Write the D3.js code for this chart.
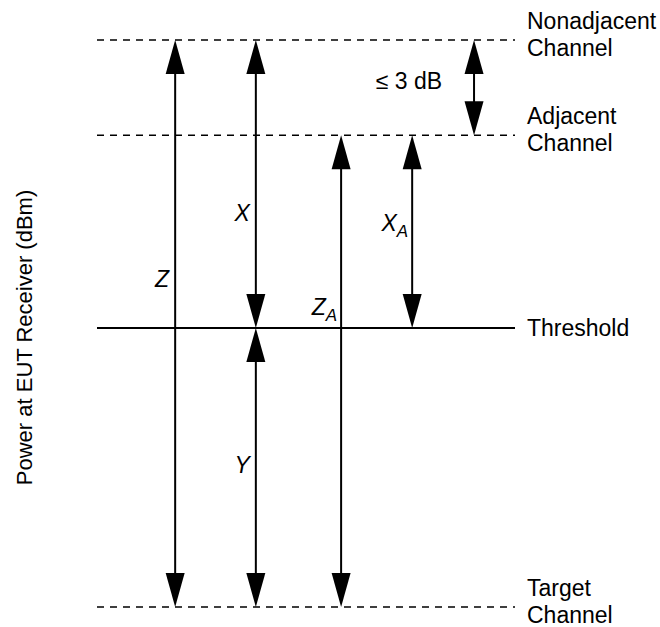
<!DOCTYPE html>
<html>
<head>
<meta charset="utf-8">
<script src="https://cdn.jsdelivr.net/npm/d3@7"></script>
<style>
  html, body { margin: 0; padding: 0; background: #fff; }
  svg text { font-family: "Liberation Sans", Arial, Helvetica, sans-serif; fill: #000; }
</style>
</head>
<body>
<svg id="chart" width="660" height="627"></svg>
<script>
// ---- data (relative power levels, arbitrary units) ----
const levelNames  = ["Target Channel", "Threshold", "Adjacent Channel", "Nonadjacent Channel"];
const levelValues = [0, 49.2, 83.2, 100];

// arrows: name, lower level, upper level, column (0-100 across the plot)
const arrowNames   = ["Z", "X", "Y", "ZA", "XA", "3dB"];
const arrowFrom    = ["Target Channel", "Threshold", "Target Channel", "Target Channel", "Threshold", "Adjacent Channel"];
const arrowTo      = ["Nonadjacent Channel", "Nonadjacent Channel", "Threshold", "Adjacent Channel", "Adjacent Channel", "Nonadjacent Channel"];
const arrowColumns = [18.7, 38.0, 38.0, 58.4, 75.4, 90.2];

// labels: main text, subscript, fraction along the arrow from its top
const labelMain  = ["Z", "X", "Y", "Z", "X", "\u2264 3 dB"];
const labelSub   = ["", "", "", "A", "A", ""];
const labelFrac  = [0.436, 0.628, 0.52, 0.381, 0.497, 0.516];

const yTitle = "Power at EUT Receiver (dBm)";

// ---- layout ----
const svg = d3.select("#chart");
const x = d3.scaleLinear().domain([0, 100]).range([97, 515]);
const y = d3.scaleLinear().domain([0, 100]).range([607, 40]);
const levelOf = name => levelValues[levelNames.indexOf(name)];

// horizontal level lines
levelNames.forEach((name, i) => {
  svg.append("line")
    .attr("x1", x(0)).attr("x2", x(100))
    .attr("y1", y(levelValues[i])).attr("y2", y(levelValues[i]))
    .attr("stroke", "#000")
    .attr("stroke-width", name === "Threshold" ? 2 : 1.6)
    .attr("stroke-dasharray", name === "Threshold" ? null : "7,6");
  const words = name.split(" ");
  const t = svg.append("text")
    .attr("x", x(100) + 12)
    .attr("font-size", 23);
  if (words.length === 1) {
    t.attr("y", y(levelValues[i]) + 8).text(name);
  } else {
    t.append("tspan").attr("x", x(100) + 12).attr("y", y(levelValues[i]) - 11).text(words[0]);
    t.append("tspan").attr("x", x(100) + 12).attr("y", y(levelValues[i]) + 16).text(words[1]);
  }
});

// double-headed arrows
const headLen = 34, headHalf = 9.5;
arrowNames.forEach((name, i) => {
  const cx = x(arrowColumns[i]);
  const yTop = y(levelOf(arrowTo[i]));
  const yBot = y(levelOf(arrowFrom[i]));
  svg.append("line")
    .attr("x1", cx).attr("x2", cx)
    .attr("y1", yTop + headLen - 2).attr("y2", yBot - headLen + 2)
    .attr("stroke", "#000").attr("stroke-width", 2);
  const head = (tipY, dir) => `M${cx},${tipY} L${cx - headHalf},${tipY + dir * headLen} L${cx + headHalf},${tipY + dir * headLen} Z`;
  svg.append("path").attr("d", head(yTop, 1)).attr("fill", "#000");
  svg.append("path").attr("d", head(yBot, -1)).attr("fill", "#000");

  // label
  const ly = yTop + labelFrac[i] * (yBot - yTop);
  const isText = labelMain[i].length > 1;
  const t = svg.append("text")
    .attr("text-anchor", "end")
    .attr("y", ly)
    .attr("font-size", 23)
    .attr("font-style", isText ? "normal" : "italic");
  if (labelSub[i]) {
    t.attr("x", cx - 4);
    t.append("tspan").text(labelMain[i]);
    t.append("tspan").attr("font-size", 17).attr("dy", 6).text(labelSub[i]);
  } else {
    t.attr("x", cx - (isText ? 32 : 6)).text(labelMain[i]);
  }
});

// y-axis title
svg.append("text")
  .attr("transform", `translate(32, ${(y(0) + y(100)) / 2 + 14}) rotate(-90)`)
  .attr("text-anchor", "middle")
  .attr("font-size", 22)
  .text(yTitle);
</script>
</body>
</html>
